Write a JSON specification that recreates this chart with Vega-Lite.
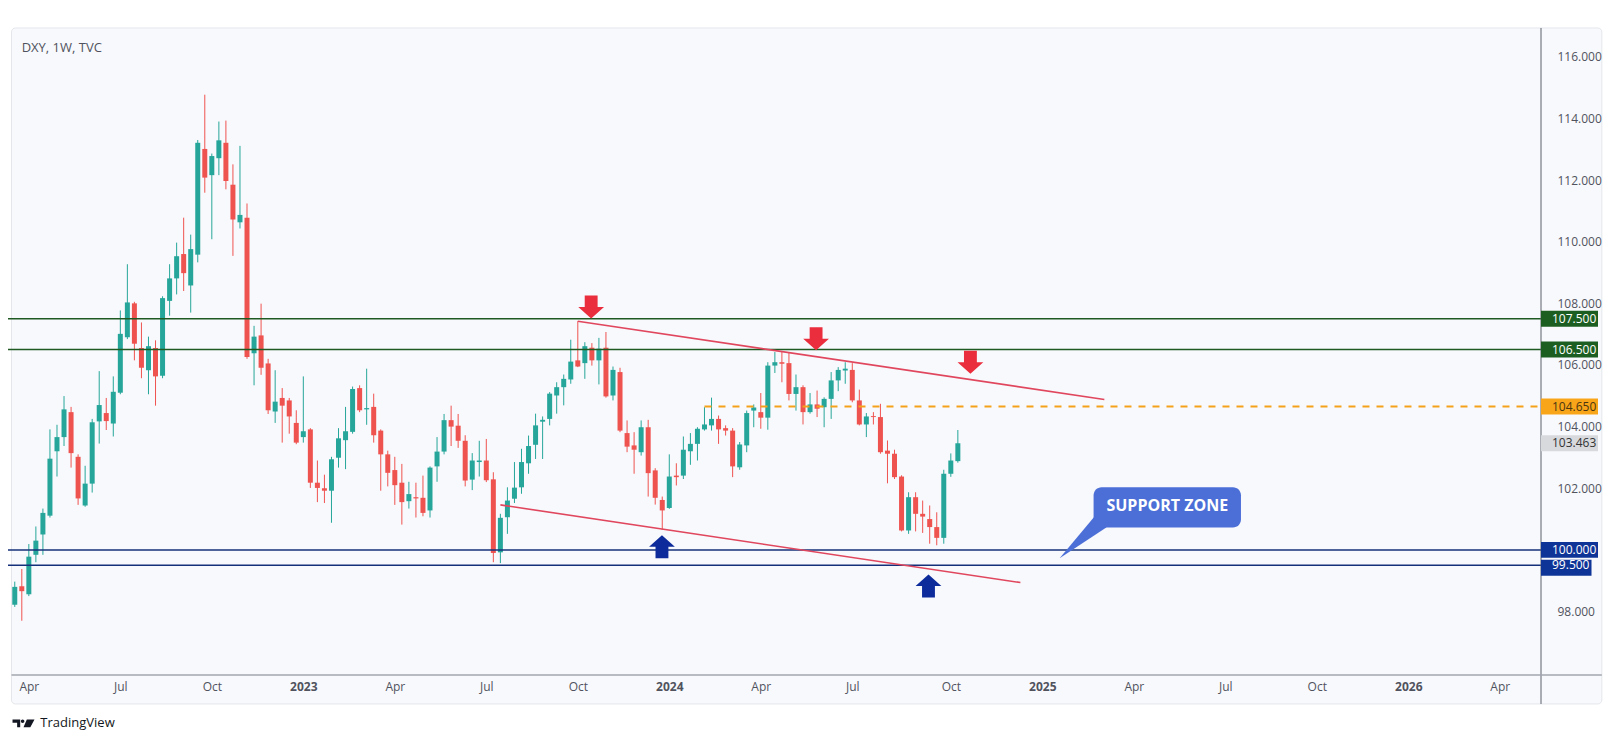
{
  "$schema": "https://vega.github.io/schema/vega-lite/v6.json",
  "width": 1538,
  "height": 645,
  "autosize": "none",
  "padding": {"left": 8, "top": 30, "right": 69, "bottom": 69},
  "background": "#ffffff",
  "config": {"view": {"stroke": null}, "font": "Open Sans"},
  "datasets": {
    "candles": [
      {"date":"2022-03-21","open":98.22,"high":98.97,"low":98.15,"close":98.80},
      {"date":"2022-03-28","open":98.82,"high":99.38,"low":97.70,"close":98.66},
      {"date":"2022-04-04","open":98.56,"high":100.19,"low":98.50,"close":99.78},
      {"date":"2022-04-11","open":99.84,"high":100.76,"low":99.60,"close":100.30},
      {"date":"2022-04-18","open":100.50,"high":101.34,"low":99.84,"close":101.20},
      {"date":"2022-04-25","open":101.11,"high":103.91,"low":101.05,"close":102.96},
      {"date":"2022-05-02","open":103.20,"high":104.06,"low":102.38,"close":103.66},
      {"date":"2022-05-09","open":103.66,"high":104.99,"low":103.37,"close":104.56},
      {"date":"2022-05-16","open":104.47,"high":104.64,"low":102.67,"close":103.14},
      {"date":"2022-05-23","open":103.02,"high":103.10,"low":101.46,"close":101.67},
      {"date":"2022-05-30","open":101.44,"high":102.73,"low":101.40,"close":102.15},
      {"date":"2022-06-06","open":102.15,"high":104.25,"low":101.86,"close":104.14},
      {"date":"2022-06-13","open":104.17,"high":105.80,"low":103.45,"close":104.70},
      {"date":"2022-06-20","open":104.44,"high":104.93,"low":103.89,"close":104.18},
      {"date":"2022-06-27","open":104.10,"high":105.63,"low":103.68,"close":105.13},
      {"date":"2022-07-04","open":105.10,"high":107.77,"low":105.05,"close":107.01},
      {"date":"2022-07-11","open":106.90,"high":109.27,"low":106.84,"close":108.03},
      {"date":"2022-07-18","open":108.00,"high":108.05,"low":106.15,"close":106.69},
      {"date":"2022-07-25","open":106.55,"high":107.38,"low":105.57,"close":105.91},
      {"date":"2022-08-01","open":105.83,"high":106.92,"low":105.05,"close":106.61},
      {"date":"2022-08-08","open":106.55,"high":106.80,"low":104.68,"close":105.63},
      {"date":"2022-08-15","open":105.65,"high":108.23,"low":105.57,"close":108.17},
      {"date":"2022-08-22","open":108.08,"high":109.27,"low":107.60,"close":108.81},
      {"date":"2022-08-29","open":108.81,"high":109.97,"low":108.29,"close":109.53},
      {"date":"2022-09-05","open":109.60,"high":110.78,"low":108.40,"close":108.98},
      {"date":"2022-09-12","open":108.58,"high":110.23,"low":107.70,"close":109.76},
      {"date":"2022-09-19","open":109.58,"high":113.30,"low":109.33,"close":113.21},
      {"date":"2022-09-26","open":113.01,"high":114.77,"low":111.59,"close":112.08},
      {"date":"2022-10-03","open":112.16,"high":112.86,"low":110.08,"close":112.78},
      {"date":"2022-10-10","open":112.71,"high":113.90,"low":112.16,"close":113.29},
      {"date":"2022-10-17","open":113.21,"high":113.93,"low":111.70,"close":111.97},
      {"date":"2022-10-24","open":111.85,"high":112.51,"low":109.54,"close":110.72},
      {"date":"2022-10-31","open":110.63,"high":113.11,"low":110.43,"close":110.87},
      {"date":"2022-11-07","open":110.78,"high":111.24,"low":106.20,"close":106.26},
      {"date":"2022-11-14","open":106.38,"high":107.27,"low":105.34,"close":106.92},
      {"date":"2022-11-21","open":106.96,"high":107.99,"low":105.68,"close":105.91},
      {"date":"2022-11-28","open":106.05,"high":106.20,"low":104.41,"close":104.53},
      {"date":"2022-12-05","open":104.49,"high":105.83,"low":104.12,"close":104.81},
      {"date":"2022-12-12","open":104.93,"high":105.25,"low":103.48,"close":104.68},
      {"date":"2022-12-19","open":104.85,"high":104.93,"low":103.77,"close":104.33},
      {"date":"2022-12-26","open":104.12,"high":104.53,"low":103.43,"close":103.48},
      {"date":"2023-01-02","open":103.66,"high":105.63,"low":103.48,"close":103.85},
      {"date":"2023-01-09","open":103.91,"high":103.95,"low":102.01,"close":102.18},
      {"date":"2023-01-16","open":102.18,"high":102.90,"low":101.55,"close":102.01},
      {"date":"2023-01-23","open":102.00,"high":102.44,"low":101.52,"close":101.92},
      {"date":"2023-01-30","open":101.92,"high":103.02,"low":100.88,"close":102.94},
      {"date":"2023-02-06","open":102.99,"high":103.95,"low":102.67,"close":103.62},
      {"date":"2023-02-13","open":103.56,"high":104.64,"low":102.62,"close":103.85},
      {"date":"2023-02-20","open":103.83,"high":105.30,"low":103.77,"close":105.22},
      {"date":"2023-02-27","open":105.25,"high":105.34,"low":104.47,"close":104.53},
      {"date":"2023-03-06","open":104.56,"high":105.88,"low":104.06,"close":104.60},
      {"date":"2023-03-13","open":104.64,"high":105.07,"low":103.48,"close":103.72},
      {"date":"2023-03-20","open":103.87,"high":103.91,"low":101.92,"close":103.10},
      {"date":"2023-03-27","open":103.10,"high":103.22,"low":102.06,"close":102.50},
      {"date":"2023-04-03","open":102.59,"high":103.02,"low":101.46,"close":102.10},
      {"date":"2023-04-10","open":102.18,"high":102.79,"low":100.82,"close":101.55},
      {"date":"2023-04-17","open":101.58,"high":102.21,"low":101.34,"close":101.81},
      {"date":"2023-04-24","open":101.71,"high":102.18,"low":101.05,"close":101.67},
      {"date":"2023-05-01","open":101.69,"high":102.41,"low":101.09,"close":101.20},
      {"date":"2023-05-08","open":101.28,"high":102.71,"low":101.05,"close":102.67},
      {"date":"2023-05-15","open":102.71,"high":103.66,"low":102.21,"close":103.19},
      {"date":"2023-05-22","open":103.19,"high":104.41,"low":103.10,"close":104.21},
      {"date":"2023-05-29","open":104.21,"high":104.68,"low":103.37,"close":104.00},
      {"date":"2023-06-05","open":104.03,"high":104.41,"low":103.31,"close":103.54},
      {"date":"2023-06-12","open":103.54,"high":103.72,"low":102.06,"close":102.25},
      {"date":"2023-06-19","open":102.28,"high":103.14,"low":101.94,"close":102.90},
      {"date":"2023-06-26","open":102.85,"high":103.54,"low":102.38,"close":102.90},
      {"date":"2023-07-03","open":102.90,"high":103.60,"low":102.20,"close":102.26},
      {"date":"2023-07-10","open":102.29,"high":102.52,"low":99.60,"close":99.90},
      {"date":"2023-07-17","open":99.92,"high":101.17,"low":99.57,"close":101.04},
      {"date":"2023-07-24","open":101.06,"high":102.03,"low":100.52,"close":101.60},
      {"date":"2023-07-31","open":101.66,"high":102.85,"low":101.52,"close":102.02},
      {"date":"2023-08-07","open":102.03,"high":103.28,"low":101.82,"close":102.85},
      {"date":"2023-08-14","open":102.81,"high":103.71,"low":102.47,"close":103.37},
      {"date":"2023-08-21","open":103.41,"high":104.42,"low":102.95,"close":104.04},
      {"date":"2023-08-28","open":104.16,"high":104.33,"low":102.95,"close":104.22},
      {"date":"2023-09-04","open":104.25,"high":105.12,"low":104.04,"close":105.07},
      {"date":"2023-09-11","open":105.01,"high":105.44,"low":104.42,"close":105.28},
      {"date":"2023-09-18","open":105.28,"high":105.69,"low":104.69,"close":105.55},
      {"date":"2023-09-25","open":105.53,"high":106.82,"low":105.39,"close":106.11},
      {"date":"2023-10-02","open":106.15,"high":107.42,"low":105.93,"close":105.95},
      {"date":"2023-10-09","open":106.06,"high":106.74,"low":105.55,"close":106.61},
      {"date":"2023-10-16","open":106.56,"high":106.71,"low":105.98,"close":106.15},
      {"date":"2023-10-23","open":106.15,"high":106.88,"low":105.37,"close":106.53},
      {"date":"2023-10-30","open":106.56,"high":107.07,"low":104.94,"close":104.98},
      {"date":"2023-11-06","open":105.01,"high":105.95,"low":104.85,"close":105.84},
      {"date":"2023-11-13","open":105.77,"high":105.91,"low":103.82,"close":103.87},
      {"date":"2023-11-20","open":103.79,"high":104.20,"low":103.17,"close":103.35},
      {"date":"2023-11-27","open":103.39,"high":103.82,"low":102.47,"close":103.25},
      {"date":"2023-12-04","open":103.17,"high":104.20,"low":103.06,"close":103.98},
      {"date":"2023-12-11","open":103.98,"high":104.22,"low":101.73,"close":102.49},
      {"date":"2023-12-18","open":102.58,"high":102.65,"low":101.47,"close":101.69},
      {"date":"2023-12-25","open":101.62,"high":101.73,"low":100.65,"close":101.28},
      {"date":"2024-01-01","open":101.36,"high":103.10,"low":101.33,"close":102.38},
      {"date":"2024-01-08","open":102.41,"high":102.81,"low":102.09,"close":102.36},
      {"date":"2024-01-15","open":102.41,"high":103.68,"low":102.30,"close":103.25},
      {"date":"2024-01-22","open":103.20,"high":103.79,"low":102.76,"close":103.44},
      {"date":"2024-01-29","open":103.44,"high":103.98,"low":102.90,"close":103.93},
      {"date":"2024-02-05","open":103.91,"high":104.63,"low":103.87,"close":104.07},
      {"date":"2024-02-12","open":104.04,"high":104.94,"low":103.87,"close":104.25},
      {"date":"2024-02-19","open":104.25,"high":104.36,"low":103.44,"close":103.91},
      {"date":"2024-02-26","open":103.95,"high":104.04,"low":103.71,"close":103.87},
      {"date":"2024-03-04","open":103.87,"high":103.95,"low":102.36,"close":102.71},
      {"date":"2024-03-11","open":102.68,"high":103.50,"low":102.60,"close":103.42},
      {"date":"2024-03-18","open":103.39,"high":104.52,"low":103.17,"close":104.44},
      {"date":"2024-03-25","open":104.52,"high":104.72,"low":103.98,"close":104.62},
      {"date":"2024-04-01","open":104.47,"high":105.09,"low":103.93,"close":104.29},
      {"date":"2024-04-08","open":104.29,"high":106.09,"low":103.90,"close":105.98},
      {"date":"2024-04-15","open":105.98,"high":106.42,"low":105.74,"close":106.09},
      {"date":"2024-04-22","open":106.09,"high":106.42,"low":105.44,"close":106.04},
      {"date":"2024-04-29","open":106.06,"high":106.42,"low":104.85,"close":105.06},
      {"date":"2024-05-06","open":105.06,"high":105.69,"low":104.52,"close":105.28},
      {"date":"2024-05-13","open":105.28,"high":105.34,"low":104.07,"close":104.47},
      {"date":"2024-05-20","open":104.47,"high":105.09,"low":104.42,"close":104.72},
      {"date":"2024-05-27","open":104.72,"high":105.17,"low":104.31,"close":104.58},
      {"date":"2024-06-03","open":104.63,"high":104.95,"low":103.98,"close":104.90},
      {"date":"2024-06-10","open":104.90,"high":105.77,"low":104.25,"close":105.50},
      {"date":"2024-06-17","open":105.50,"high":105.93,"low":105.15,"close":105.84},
      {"date":"2024-06-24","open":105.82,"high":106.09,"low":105.39,"close":105.88},
      {"date":"2024-07-01","open":105.84,"high":106.06,"low":104.79,"close":104.85},
      {"date":"2024-07-08","open":104.85,"high":105.20,"low":104.04,"close":104.07},
      {"date":"2024-07-15","open":104.07,"high":104.44,"low":103.66,"close":104.33},
      {"date":"2024-07-22","open":104.34,"high":104.47,"low":104.07,"close":104.31},
      {"date":"2024-07-29","open":104.31,"high":104.74,"low":103.12,"close":103.17},
      {"date":"2024-08-05","open":103.22,"high":103.55,"low":102.16,"close":103.12},
      {"date":"2024-08-12","open":103.12,"high":103.25,"low":102.30,"close":102.36},
      {"date":"2024-08-19","open":102.38,"high":102.42,"low":100.60,"close":100.63},
      {"date":"2024-08-26","open":100.63,"high":101.87,"low":100.52,"close":101.71},
      {"date":"2024-09-02","open":101.71,"high":101.87,"low":100.60,"close":101.17},
      {"date":"2024-09-09","open":101.17,"high":101.60,"low":100.55,"close":101.08},
      {"date":"2024-09-16","open":101.00,"high":101.44,"low":100.20,"close":100.74},
      {"date":"2024-09-23","open":100.74,"high":101.22,"low":100.15,"close":100.39},
      {"date":"2024-09-30","open":100.39,"high":102.60,"low":100.20,"close":102.47},
      {"date":"2024-10-07","open":102.47,"high":103.13,"low":102.37,"close":102.90},
      {"date":"2024-10-14","open":102.88,"high":103.89,"low":102.83,"close":103.46}
    ],
    "levels": [
      {"v": 107.5, "kind": "res"},
      {"v": 106.5, "kind": "res"},
      {"v": 100.0, "kind": "sup"},
      {"v": 99.5, "kind": "sup"}
    ],
    "pivot": [{"date": "2024-02-05", "v": 104.65}],
    "trend": [
      {"d1": "2023-10-02T00:00:00Z", "v1": 107.42, "d2": "2025-03-08T17:00:00Z", "v2": 104.88},
      {"d1": "2023-07-17T00:00:00Z", "v1": 101.46, "d2": "2024-12-15T05:00:00Z", "v2": 98.94}
    ],
    "arrows": [
      {"date": "2023-10-15T07:00:00Z", "v": 107.88, "dir": "down"},
      {"date": "2024-05-26T00:00:00Z", "v": 106.85, "dir": "down"},
      {"date": "2024-10-26T12:00:00Z", "v": 106.09, "dir": "down"},
      {"date": "2023-12-24T17:00:00Z", "v": 100.10, "dir": "up"},
      {"date": "2024-09-14T19:00:00Z", "v": 98.83, "dir": "up"}
    ],
    "tags": [
      {"v": 107.5, "label": "107.500", "kind": "res"},
      {"v": 106.5, "label": "106.500", "kind": "res"},
      {"v": 104.65, "label": "104.650", "kind": "pivot"},
      {"v": 103.463, "label": "103.463", "kind": "last"},
      {"v": 100.0, "label": "100.000", "kind": "sup"},
      {"v": 99.5, "label": "99.500", "kind": "sup"}
    ]
  },
  "layer": [
    {
      "data": {"values": [{}]},
      "mark": {"type": "rect", "fill": "#f8f9fc", "stroke": "#e4e6eb", "strokeWidth": 1, "cornerRadius": 4},
      "encoding": {
        "x": {"datum": {"year": 2022, "month": 3, "date": 17, "hours": 18, "utc": true}, "type": "temporal",
          "scale": {"type": "utc", "domain": [{"year": 2022, "month": 3, "date": 19, "hours": 6, "utc": true}, {"year": 2026, "month": 5, "date": 17, "utc": true}]},
          "axis": {
            "zindex": 1,
            "values": [
              {"year": 2022, "month": 4, "date": 4, "utc": true},
              {"year": 2022, "month": 7, "date": 4, "utc": true},
              {"year": 2022, "month": 10, "date": 3, "utc": true},
              {"year": 2023, "month": 1, "date": 2, "utc": true},
              {"year": 2023, "month": 4, "date": 3, "utc": true},
              {"year": 2023, "month": 7, "date": 3, "utc": true},
              {"year": 2023, "month": 10, "date": 2, "utc": true},
              {"year": 2024, "month": 1, "date": 1, "utc": true},
              {"year": 2024, "month": 4, "date": 1, "utc": true},
              {"year": 2024, "month": 7, "date": 1, "utc": true},
              {"year": 2024, "month": 10, "date": 7, "utc": true},
              {"year": 2025, "month": 1, "date": 6, "utc": true},
              {"year": 2025, "month": 4, "date": 7, "utc": true},
              {"year": 2025, "month": 7, "date": 7, "utc": true},
              {"year": 2025, "month": 10, "date": 6, "utc": true},
              {"year": 2026, "month": 1, "date": 5, "utc": true},
              {"year": 2026, "month": 4, "date": 6, "utc": true}
            ],
            "labelExpr": "utcmonth(datum.value) == 0 ? utcFormat(datum.value, '%Y') : utcFormat(datum.value, '%b')",
            "labelFontWeight": {"condition": {"test": "utcmonth(datum.value) == 0", "value": "bold"}, "value": "normal"},
            "ticks": false, "domain": false, "grid": false, "title": null,
            "labelPadding": 6, "labelFontSize": 12, "labelColor": "#50535e", "labelFont": "Open Sans",
            "labelOverlap": false, "labelFlush": false
          }},
        "x2": {"datum": {"year": 2026, "month": 7, "date": 16, "hours": 12, "utc": true}},
        "y": {"datum": 116.935, "type": "quantitative",
          "scale": {"domain": [95.94, 116.87], "zero": false, "nice": false},
          "axis": {"zindex": 1, "orient": "right", "values": [98, 102, 104, 106, 108, 110, 112, 114, 116], "format": ".3f", "labelAlign": "left", "labelPadding": 11, "ticks": false, "domain": false, "grid": false, "title": null, "labelFontSize": 12, "labelColor": "#50535e", "labelFont": "Open Sans", "labelOverlap": false}},
        "y2": {"datum": 95.0}
      }
    },
    {
      "data": {"name": "candles"},
      "encoding": {
        "x": {"field": "date", "type": "temporal", "scale": {"type": "utc", "domain": [{"year": 2022, "month": 3, "date": 19, "hours": 6, "utc": true}, {"year": 2026, "month": 5, "date": 17, "utc": true}]}},
        "color": {"condition": {"test": "datum.close >= datum.open", "value": "#26a69a"}, "value": "#ef5350"}
      },
      "layer": [
        {
          "mark": {"type": "rule", "strokeWidth": 1, "clip": true},
          "encoding": {
            "y": {"field": "low", "type": "quantitative", "scale": {"domain": [95.94, 116.87], "zero": false, "nice": false}},
            "y2": {"field": "high"}
          }
        },
        {
          "mark": {"type": "bar", "width": 5, "clip": true},
          "encoding": {
            "y": {"field": "open", "type": "quantitative", "scale": {"domain": [95.94, 116.87], "zero": false, "nice": false}},
            "y2": {"field": "close"}
          }
        }
      ]
    },
    {
      "data": {"name": "levels"},
      "mark": {"type": "rule", "strokeWidth": 1.5},
      "encoding": {
        "y": {"field": "v", "type": "quantitative", "scale": {"domain": [95.94, 116.87], "zero": false, "nice": false}},
        "color": {"condition": {"test": "datum.kind == 'res'", "value": "#1f5a22"}, "value": "#15307a"}
      }
    },
    {
      "data": {"name": "pivot"},
      "mark": {"type": "rule", "strokeWidth": 2, "strokeDash": [7, 7], "color": "#f5a21b"},
      "encoding": {
        "x": {"field": "date", "type": "temporal", "scale": {"type": "utc", "domain": [{"year": 2022, "month": 3, "date": 19, "hours": 6, "utc": true}, {"year": 2026, "month": 5, "date": 17, "utc": true}]}},
        "x2": {"datum": {"year": 2026, "month": 5, "date": 17, "utc": true}},
        "y": {"field": "v", "type": "quantitative", "scale": {"domain": [95.94, 116.87], "zero": false, "nice": false}}
      }
    },
    {
      "data": {"name": "trend"},
      "mark": {"type": "rule", "strokeWidth": 1.6, "color": "#e0475e"},
      "encoding": {
        "x": {"field": "d1", "type": "temporal", "scale": {"type": "utc", "domain": [{"year": 2022, "month": 3, "date": 19, "hours": 6, "utc": true}, {"year": 2026, "month": 5, "date": 17, "utc": true}]}},
        "x2": {"field": "d2"},
        "y": {"field": "v1", "type": "quantitative", "scale": {"domain": [95.94, 116.87], "zero": false, "nice": false}},
        "y2": {"field": "v2"}
      }
    },
    {
      "data": {"name": "arrows"},
      "mark": {"type": "point", "filled": true, "opacity": 1, "size": 529, "strokeWidth": 0},
      "encoding": {
        "x": {"field": "date", "type": "temporal", "scale": {"type": "utc", "domain": [{"year": 2022, "month": 3, "date": 19, "hours": 6, "utc": true}, {"year": 2026, "month": 5, "date": 17, "utc": true}]}},
        "y": {"field": "v", "type": "quantitative", "scale": {"domain": [95.94, 116.87], "zero": false, "nice": false}},
        "shape": {"field": "dir", "type": "nominal", "legend": null, "scale": {"domain": ["down", "up"], "range": ["M -0.56 -1 L 0.56 -1 L 0.56 0 L 1.12 0 L 0 1 L -1.12 0 L -0.56 0 Z", "M -0.56 1 L 0.56 1 L 0.56 0 L 1.12 0 L 0 -1 L -1.12 0 L -0.56 0 Z"]}},
        "color": {"field": "dir", "type": "nominal", "legend": null, "scale": {"domain": ["down", "up"], "range": ["#ea2e3d", "#0d2b9b"]}}
      }
    },
    {
      "data": {"values": [{}]},
      "mark": {"type": "point", "filled": true, "opacity": 1, "size": 1600, "strokeWidth": 0, "color": "#4b6fd7", "shape": "M -1.035 1.115 L 0.7 -0.95 L 1.3 -0.95 L 1.3 -0.415 Z"},
      "encoding": {
        "x": {"datum": {"year": 2025, "month": 2, "date": 12, "hours": 19, "utc": true}, "type": "temporal", "scale": {"type": "utc", "domain": [{"year": 2022, "month": 3, "date": 19, "hours": 6, "utc": true}, {"year": 2026, "month": 5, "date": 17, "utc": true}]}},
        "y": {"datum": 100.455, "type": "quantitative", "scale": {"domain": [95.94, 116.87], "zero": false, "nice": false}}
      }
    },
    {
      "data": {"values": [{}]},
      "mark": {"type": "rect", "fill": "#4b6fd7", "cornerRadius": 8},
      "encoding": {
        "x": {"datum": {"year": 2025, "month": 2, "date": 26, "utc": true}, "type": "temporal", "scale": {"type": "utc", "domain": [{"year": 2022, "month": 3, "date": 19, "hours": 6, "utc": true}, {"year": 2026, "month": 5, "date": 17, "utc": true}]}},
        "x2": {"datum": {"year": 2025, "month": 7, "date": 22, "hours": 14, "utc": true}},
        "y": {"datum": 102.03, "type": "quantitative", "scale": {"domain": [95.94, 116.87], "zero": false, "nice": false}},
        "y2": {"datum": 100.73}
      }
    },
    {
      "data": {"values": [{}]},
      "mark": {"type": "text", "text": "SUPPORT ZONE", "align": "center", "baseline": "middle", "fontSize": 16, "fontWeight": "bold", "color": "#ffffff", "font": "Open Sans"},
      "encoding": {
        "x": {"datum": {"year": 2025, "month": 5, "date": 10, "hours": 7, "utc": true}, "type": "temporal", "scale": {"type": "utc", "domain": [{"year": 2022, "month": 3, "date": 19, "hours": 6, "utc": true}, {"year": 2026, "month": 5, "date": 17, "utc": true}]}},
        "y": {"datum": 101.41, "type": "quantitative", "scale": {"domain": [95.94, 116.87], "zero": false, "nice": false}}
      }
    },
    {
      "data": {"values": [{}]},
      "mark": {"type": "rule", "strokeWidth": 1, "color": "#5d606b"},
      "encoding": {
        "x": {"datum": {"year": 2026, "month": 5, "date": 17, "utc": true}, "type": "temporal", "scale": {"type": "utc", "domain": [{"year": 2022, "month": 3, "date": 19, "hours": 6, "utc": true}, {"year": 2026, "month": 5, "date": 17, "utc": true}]}},
        "y": {"datum": 116.935, "type": "quantitative", "scale": {"domain": [95.94, 116.87], "zero": false, "nice": false}},
        "y2": {"datum": 95.0}
      }
    },
    {
      "data": {"values": [{}]},
      "mark": {"type": "rule", "strokeWidth": 1.5, "color": "#a3a6af"},
      "encoding": {
        "x": {"datum": {"year": 2022, "month": 3, "date": 17, "hours": 18, "utc": true}, "type": "temporal", "scale": {"type": "utc", "domain": [{"year": 2022, "month": 3, "date": 19, "hours": 6, "utc": true}, {"year": 2026, "month": 5, "date": 17, "utc": true}]}},
        "x2": {"datum": {"year": 2026, "month": 7, "date": 16, "hours": 12, "utc": true}},
        "y": {"datum": 95.94, "type": "quantitative", "scale": {"domain": [95.94, 116.87], "zero": false, "nice": false}}
      }
    },
    {
      "data": {"name": "tags"},
      "transform": [{"filter": "datum.v != 99.5"}],
      "mark": {"type": "point", "filled": true, "opacity": 1, "size": 12996, "strokeWidth": 0, "shape": "M 0 -0.14 L 1 -0.14 L 1 0.14 L 0 0.14 Z"},
      "encoding": {
        "x": {"datum": {"year": 2026, "month": 5, "date": 17, "utc": true}, "type": "temporal", "scale": {"type": "utc", "domain": [{"year": 2022, "month": 3, "date": 19, "hours": 6, "utc": true}, {"year": 2026, "month": 5, "date": 17, "utc": true}]}},
        "y": {"field": "v", "type": "quantitative", "scale": {"domain": [95.94, 116.87], "zero": false, "nice": false}},
        "fill": {"condition": [
          {"test": "datum.kind == 'res'", "value": "#1c5e22"},
          {"test": "datum.kind == 'pivot'", "value": "#f9a51a"},
          {"test": "datum.kind == 'last'", "value": "#d8d9dd"}
        ], "value": "#0f3497"}
      }
    },
    {
      "data": {"name": "tags"},
      "transform": [{"filter": "datum.v == 99.5"}],
      "mark": {"type": "point", "filled": true, "opacity": 1, "size": 12996, "strokeWidth": 0, "yOffset": 2.5, "color": "#0f3497", "shape": "M 0 -0.14 L 0.886 -0.14 L 0.886 0.14 L 0 0.14 Z"},
      "encoding": {
        "x": {"datum": {"year": 2026, "month": 5, "date": 17, "utc": true}, "type": "temporal", "scale": {"type": "utc", "domain": [{"year": 2022, "month": 3, "date": 19, "hours": 6, "utc": true}, {"year": 2026, "month": 5, "date": 17, "utc": true}]}},
        "y": {"field": "v", "type": "quantitative", "scale": {"domain": [95.94, 116.87], "zero": false, "nice": false}}
      }
    },
    {
      "data": {"name": "tags"},
      "mark": {"type": "text", "align": "left", "baseline": "middle", "dx": 11, "fontSize": 12, "font": "Open Sans"},
      "encoding": {
        "x": {"datum": {"year": 2026, "month": 5, "date": 17, "utc": true}, "type": "temporal", "scale": {"type": "utc", "domain": [{"year": 2022, "month": 3, "date": 19, "hours": 6, "utc": true}, {"year": 2026, "month": 5, "date": 17, "utc": true}]}},
        "y": {"field": "v", "type": "quantitative", "scale": {"domain": [95.94, 116.87], "zero": false, "nice": false}},
        "yOffset": {"condition": {"test": "datum.v == 99.5", "value": 2.5}, "value": 0},
        "text": {"field": "label"},
        "color": {"condition": [
          {"test": "datum.kind == 'pivot'", "value": "#4a3510"},
          {"test": "datum.kind == 'last'", "value": "#333333"}
        ], "value": "#ffffff"}
      }
    },
    {
      "data": {"values": [{}]},
      "mark": {"type": "text", "text": "DXY, 1W, TVC", "align": "left", "baseline": "middle", "fontSize": 13, "color": "#50535e", "font": "Open Sans"},
      "encoding": {
        "x": {"datum": {"year": 2022, "month": 3, "date": 27, "hours": 20, "utc": true}, "type": "temporal", "scale": {"type": "utc", "domain": [{"year": 2022, "month": 3, "date": 19, "hours": 6, "utc": true}, {"year": 2026, "month": 5, "date": 17, "utc": true}]}},
        "y": {"datum": 116.29, "type": "quantitative", "scale": {"domain": [95.94, 116.87], "zero": false, "nice": false}}
      }
    },
    {
      "data": {"values": [{}]},
      "mark": {"type": "point", "filled": true, "opacity": 1, "size": 484, "strokeWidth": 0, "color": "#131722", "shape": "M -1 -0.36 L -0.3 -0.36 L -0.3 0.36 L -0.58 0.36 L -0.58 -0.05 L -1 -0.05 Z M -0.24 -0.2 A 0.16 0.16 0 1 0 0.08 -0.2 A 0.16 0.16 0 1 0 -0.24 -0.2 Z M 0.3 -0.36 L 1 -0.36 L 0.62 0.36 L 0 0.36 Z"},
      "encoding": {
        "x": {"datum": {"year": 2022, "month": 3, "date": 29, "hours": 17, "utc": true}, "type": "temporal", "scale": {"type": "utc", "domain": [{"year": 2022, "month": 3, "date": 19, "hours": 6, "utc": true}, {"year": 2026, "month": 5, "date": 17, "utc": true}]}},
        "y": {"datum": 94.37, "type": "quantitative", "scale": {"domain": [95.94, 116.87], "zero": false, "nice": false}}
      }
    },
    {
      "data": {"values": [{}]},
      "mark": {"type": "text", "text": "TradingView", "align": "left", "baseline": "middle", "fontSize": 13, "color": "#131722", "font": "Open Sans"},
      "encoding": {
        "x": {"datum": {"year": 2022, "month": 4, "date": 15, "hours": 11, "utc": true}, "type": "temporal", "scale": {"type": "utc", "domain": [{"year": 2022, "month": 3, "date": 19, "hours": 6, "utc": true}, {"year": 2026, "month": 5, "date": 17, "utc": true}]}},
        "y": {"datum": 94.37, "type": "quantitative", "scale": {"domain": [95.94, 116.87], "zero": false, "nice": false}}
      }
    }
  ]
}
